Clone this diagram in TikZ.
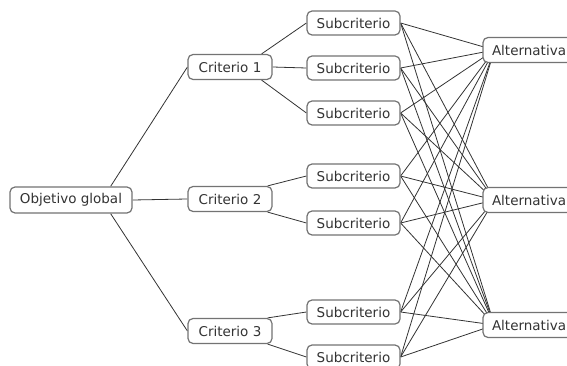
\documentclass[tikz,border=0pt]{standalone}
\usepackage{fontspec}
\setmainfont{DejaVu Sans}
\usetikzlibrary{backgrounds}
\tikzset{
  box/.style={draw=black!55, line width=1.2pt, rounded corners=5pt, fill=white,
    text=black!80, inner sep=0pt, font=\fontsize{13.5}{15}\selectfont},
  objbox/.style={box, minimum width=122pt, minimum height=26pt},
  critbox/.style={box, minimum width=84pt, minimum height=25pt},
  subbox/.style={box, minimum width=93pt, minimum height=24pt},
  altbox/.style={box, minimum width=96pt, minimum height=25pt, text width=78pt, align=left},
  link/.style={draw=black!80, line width=0.8pt}
}
\begin{document}
\begin{tikzpicture}[x=1pt,y=-1pt]
\useasboundingbox (0,0) rectangle (567,366);
\clip (0,0) rectangle (567,366);

\node[objbox] (obj) at (71,200) {Objetivo global};
\node[critbox] (c1) at (230,67) {Criterio 1};
\node[critbox] (c2) at (230,199) {Criterio 2};
\node[critbox] (c3) at (230,331) {Criterio 3};

\node[subbox] (s1) at (353.5,23) {Subcriterio};
\node[subbox] (s2) at (353.5,68) {Subcriterio};
\node[subbox] (s3) at (353.5,113) {Subcriterio};
\node[subbox] (s4) at (353.5,176) {Subcriterio};
\node[subbox] (s5) at (353.5,223) {Subcriterio};
\node[subbox] (s6) at (353.5,312) {Subcriterio};
\node[subbox] (s7) at (353.5,357) {Subcriterio};

\node[altbox] (a1) at (531,50) {Alternativa};
\node[altbox] (a2) at (531,200) {Alternativa};
\node[altbox] (a3) at (531,325) {Alternativa};

\begin{scope}[on background layer]
  \draw[link] ([xshift=-22pt]obj.north east) -- (c1.west);
  \draw[link] (obj.east) -- (c2.west);
  \draw[link] ([xshift=-22pt]obj.south east) -- (c3.west);

  \draw[link] ([xshift=-11pt]c1.north east) -- (s1.west);
  \draw[link] (c1.east) -- (s2.west);
  \draw[link] ([xshift=-11pt]c1.south east) -- (s3.west);

  \draw[link] ([xshift=-5pt]c2.north east) -- (s4.west);
  \draw[link] ([xshift=-5pt]c2.south east) -- (s5.west);

  \draw[link] ([xshift=-5pt]c3.north east) -- (s6.west);
  \draw[link] ([xshift=-5pt]c3.south east) -- (s7.west);

  \foreach \s in {s1,s2,s3,s4,s5,s6,s7}{
    \foreach \a in {a1,a2,a3}{
      \draw[link] (\s.east) -- ([xshift=12pt]\a.west);
    }
  }
\end{scope}
\end{tikzpicture}
\end{document}
